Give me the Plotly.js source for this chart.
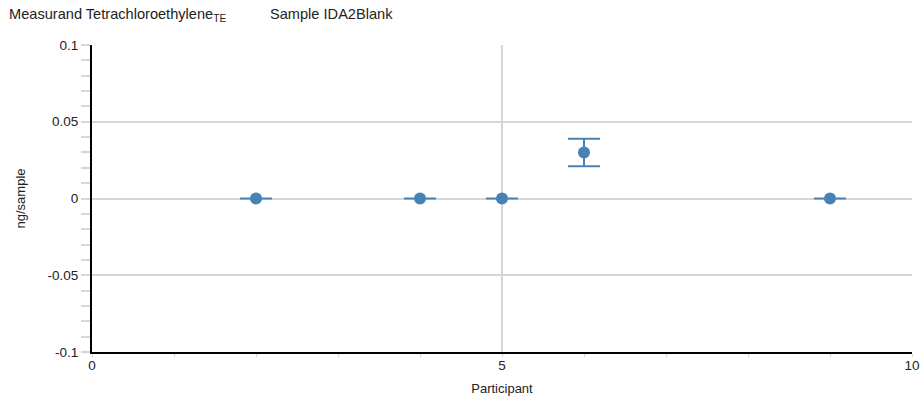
<!DOCTYPE html>
<html>
<head>
<meta charset="utf-8">
<script src="https://cdn.plot.ly/plotly-3.0.1.min.js"></script>
<style>html,body{margin:0;padding:0;background:#fff;}#chart{width:924px;height:403px;}</style>
</head>
<body>
<div id="chart"></div>
<script>
const participants = [2, 4, 5, 6, 9];
const values = [0, 0, 0, 0.03, 0];
const uncertainties = [0, 0, 0, 0.009, 0];
const yTickVals = [-0.1, -0.05, 0, 0.05, 0.1];
const yTickText = ['-0.1', '-0.05', '0', '0.05', '0.1'];
const xTickVals = [0, 5, 10];
const xTickText = ['0', '5', '10'];

const blue = '#4682b4';
const fam = 'Liberation Sans, Arial, sans-serif';
const font = {family: fam, size: 13.5, color: '#222'};
const titleFont = {family: fam, size: 14.6, color: '#222'};

const trace = {
  x: participants,
  y: values,
  type: 'scatter',
  mode: 'markers',
  marker: {color: blue, size: 12},
  error_y: {type: 'data', array: uncertainties, visible: true, color: blue, thickness: 2, width: 16},
  hoverinfo: 'x+y'
};

const layout = {
  width: 924, height: 403,
  margin: {l: 92, r: 12, t: 45, b: 51},
  paper_bgcolor: '#fff', plot_bgcolor: '#fff',
  font: font,
  showlegend: false,
  title: {
    text: 'Measurand Tetrachloroethylene<sub>TE</sub>',
    x: 9 / 924, xref: 'container', xanchor: 'left',
    y: 1 - 14 / 403, yref: 'container', yanchor: 'middle',
    font: titleFont
  },
  annotations: [{
    text: 'Sample IDA2Blank',
    xref: 'paper', yref: 'paper',
    x: (268 - 92) / 820, y: (352 - 14) / 307,
    xanchor: 'left', yanchor: 'middle', showarrow: false,
    font: titleFont
  }],
  xaxis: {
    range: [0, 10],
    tickvals: xTickVals, ticktext: xTickText,
    ticks: '', showgrid: true, gridcolor: '#d6d6d6', gridwidth: 2,
    zeroline: false,
    showline: true, linecolor: '#000', linewidth: 2,
    minor: {dtick: 1, ticks: 'outside', ticklen: 3, tickcolor: '#d6d6d6', tickwidth: 1, showgrid: false},
    tickfont: font,
    title: {text: 'Participant', font: {family: fam, size: 13, color: '#222'}, standoff: 12},
    automargin: false,
    fixedrange: true
  },
  yaxis: {
    range: [-0.1, 0.1],
    tickvals: yTickVals, ticktext: yTickText,
    ticks: 'outside', ticklen: 9, tickcolor: '#d6d6d6', tickwidth: 2,
    showgrid: true, gridcolor: '#d6d6d6', gridwidth: 2,
    zeroline: false,
    showline: true, linecolor: '#000', linewidth: 2,
    minor: {dtick: 0.01, ticks: 'outside', ticklen: 9, tickcolor: '#d6d6d6', tickwidth: 2, showgrid: false},
    tickfont: font,
    title: {text: 'ng/sample', font: {family: fam, size: 13, color: '#222'}, standoff: 19},
    automargin: false,
    fixedrange: true
  }
};

Plotly.newPlot('chart', [trace], layout, {staticPlot: true, displayModeBar: false});
</script>
</body>
</html>
